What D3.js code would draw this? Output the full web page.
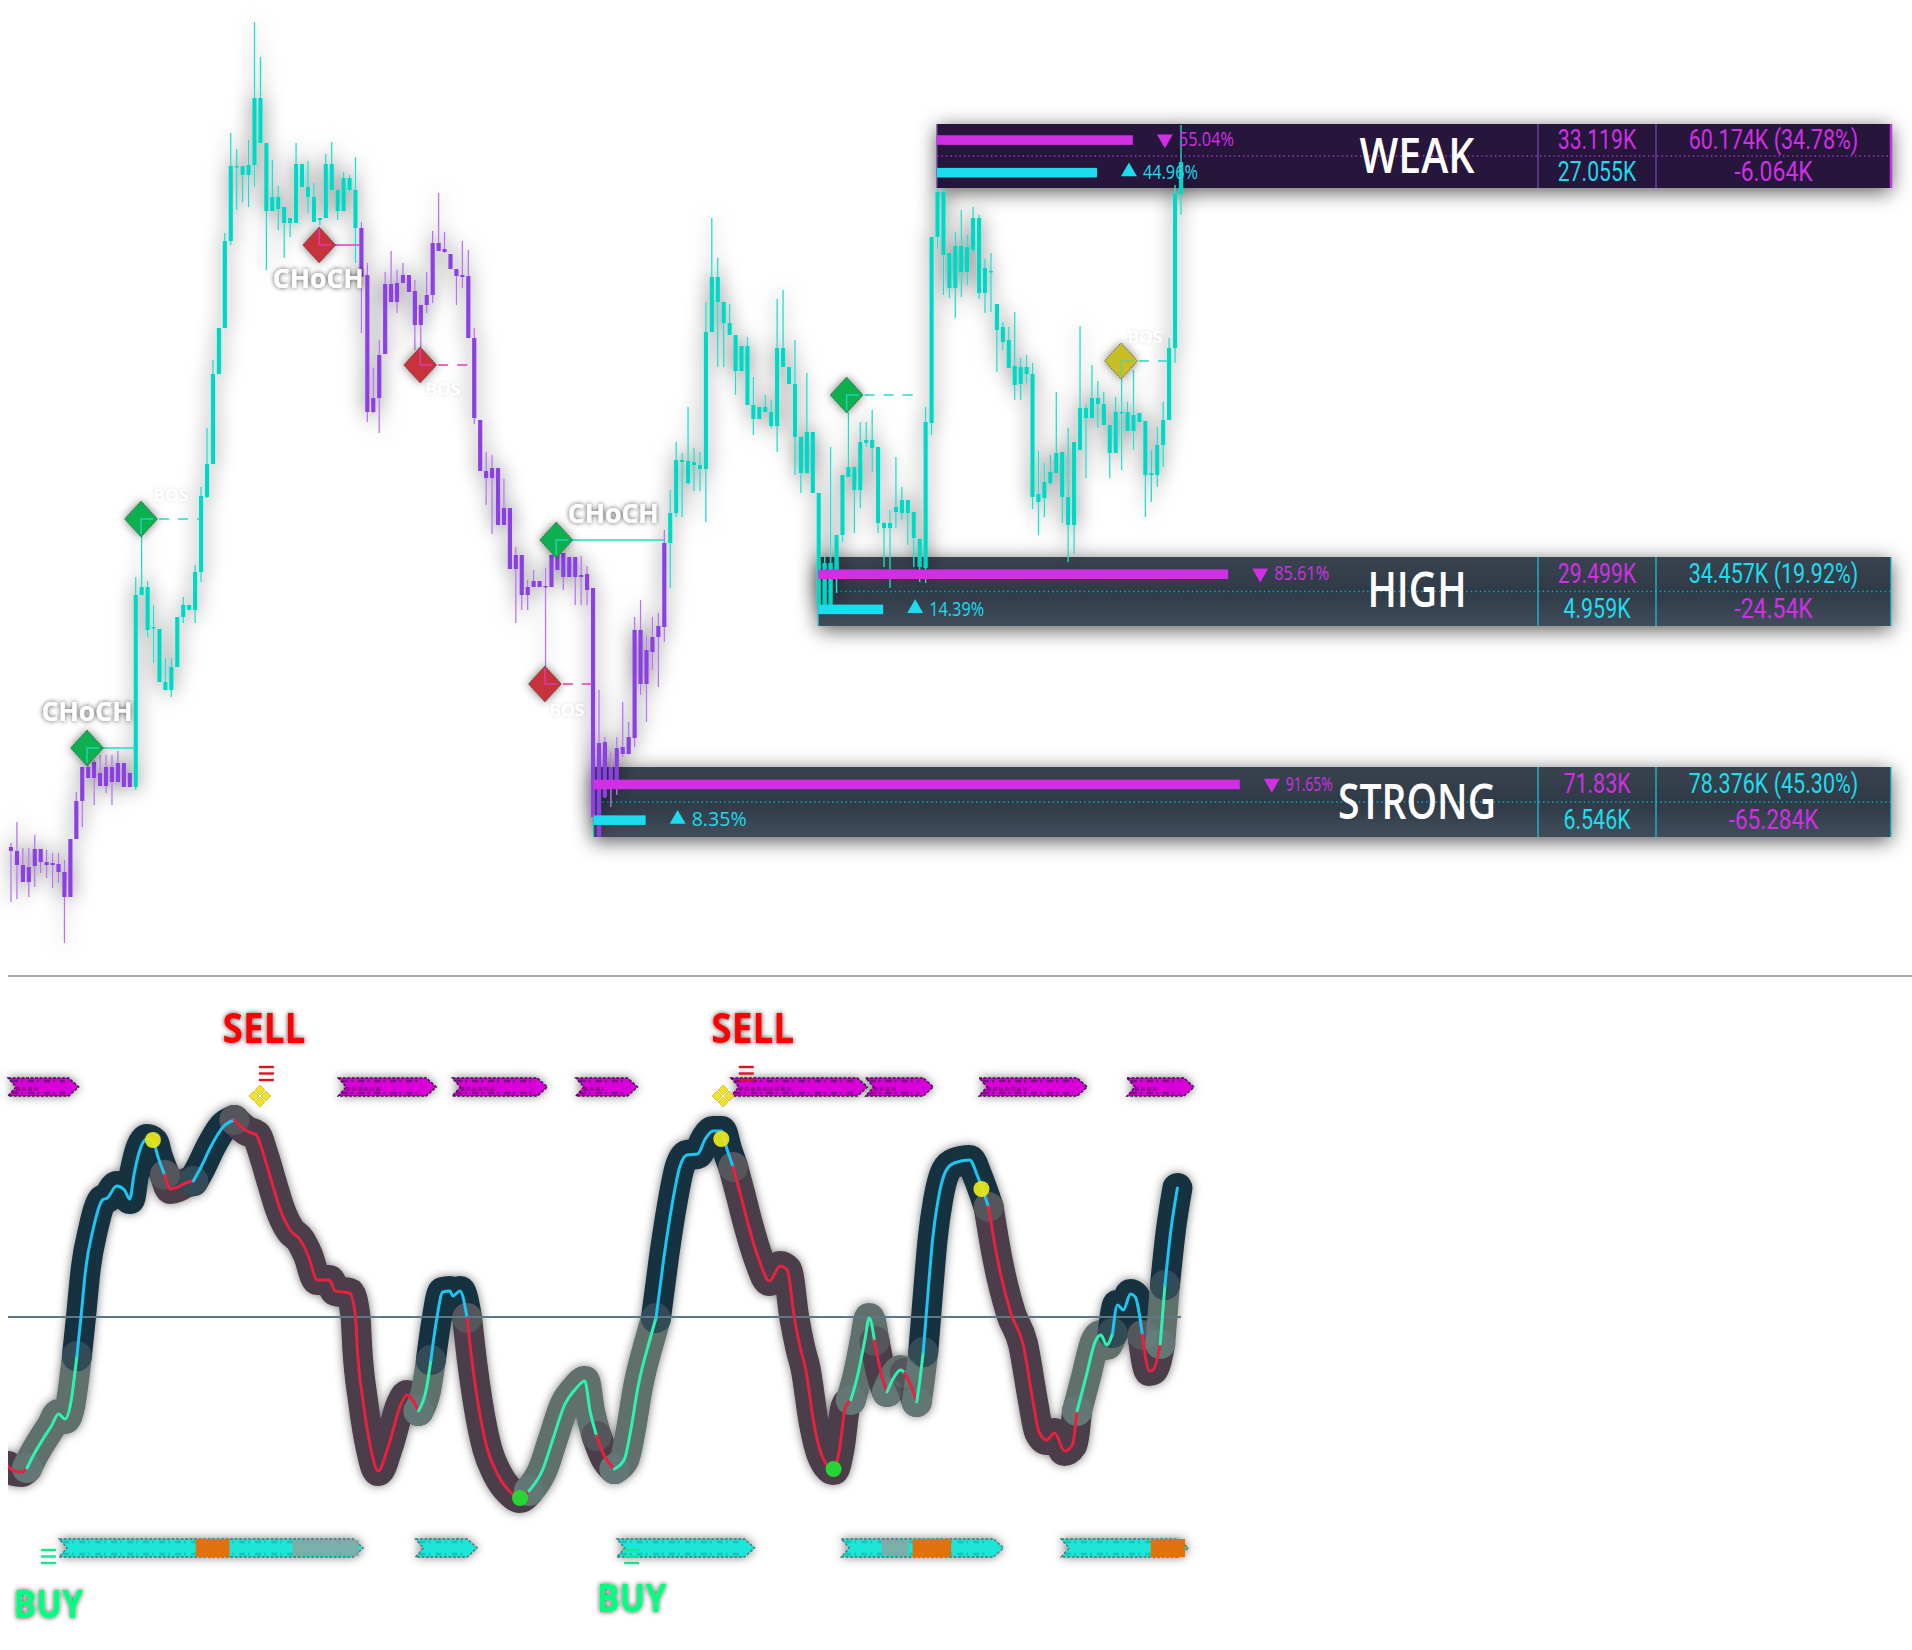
<!DOCTYPE html>
<html>
<head>
<meta charset="utf-8">
<title>chart</title>
<script src="https://cdn.jsdelivr.net/npm/d3@7"></script>
<style>
  html, body { margin: 0; padding: 0; background: #fff; }
  text { font-family: "Open Sans", sans-serif; }
  text.cell { font-family: Roboto, sans-serif; }
</style>
</head>
<body>
<div id="chart"></div>
<script>
"use strict";
// candles, price units
var candleTop = [
  153,149,135,133,151,151,138,137,136,128,
  161,199,233,233,238,227,233,233,237,237,
  227,405,413,413,373,371,318,333,383,395,
  395,428,504,536,626,672,759,834,834,834,
  835,902,902,857,803,803,793,782,836,836,
  813,803,782,836,836,810,822,822,810,772,
  725,602,645,716,716,717,725,725,709,695,
  705,757,757,751,746,731,725,724,662,580,
  529,532,532,492,492,445,445,413,419,419,
  414,445,445,447,443,443,425,426,412,257,
  258,233,252,253,263,370,370,350,363,374,
  457,487,540,540,539,538,535,668,723,723,
  698,677,665,654,654,595,593,593,588,652,
  652,633,616,563,568,568,507,437,437,465,
  525,533,533,558,560,560,553,477,477,493,
  500,500,488,461,578,763,808,808,747,754,
  754,753,782,782,732,729,696,673,660,634,
  633,633,626,506,518,528,547,548,503,558,
  592,592,602,602,596,575,588,588,588,585,
  587,579,527,555,580,652,807,838];
var candleBot = [
  149,135,118,118,134,138,135,135,128,103,
  103,161,199,222,222,214,214,218,218,213,
  213,213,405,370,372,318,310,310,333,383,
  390,390,428,503,536,626,672,759,833,825,
  825,835,857,789,789,791,777,777,777,813,
  803,778,780,782,810,789,789,810,772,723,
  588,588,602,646,698,698,717,708,675,675,
  695,705,749,748,731,724,723,662,582,529,
  522,522,475,475,431,431,405,405,413,413,
  413,413,430,423,423,423,423,410,183,163,
  203,212,220,246,246,262,316,316,348,363,
  373,457,487,538,517,535,531,531,668,698,
  677,665,629,629,595,581,581,588,574,574,
  633,616,563,527,527,507,395,395,395,425,
  465,523,510,510,557,552,477,472,472,488,
  487,487,462,433,432,577,763,745,712,712,
  728,728,750,707,707,728,670,658,632,615,
  616,626,503,498,502,517,527,503,475,475,
  550,582,582,596,575,547,547,587,569,569,
  578,525,525,525,555,580,652,806];
var candleHigh = [
  157,178,152,152,165,151,150,147,147,140,
  161,208,233,240,240,245,245,245,249,237,
  227,423,465,419,395,371,342,342,383,403,
  395,435,513,572,640,672,767,867,851,834,
  860,978,943,857,840,814,793,782,857,836,
  839,817,782,846,858,810,828,825,843,778,
  737,632,660,728,749,730,737,725,720,695,
  728,769,807,768,746,731,759,750,672,580,
  548,545,532,521,492,453,445,420,430,419,
  432,445,446,447,443,443,444,434,412,310,
  263,247,263,298,278,383,400,364,383,387,
  470,510,558,547,593,552,548,698,782,742,
  698,696,665,654,663,623,593,605,600,701,
  710,633,660,563,627,568,507,443,553,465,
  525,588,533,578,578,590,553,478,490,543,
  513,500,488,461,593,763,812,812,747,768,
  790,765,793,785,741,747,696,678,673,688,
  642,645,637,549,537,545,608,548,572,558,
  674,595,635,619,608,575,603,622,598,630,
  587,579,550,573,598,662,815,875];
var candleLow = [
  98,101,118,103,113,127,122,112,117,57,
  103,161,173,222,195,214,207,195,218,213,
  213,210,405,363,337,318,310,303,333,377,
  390,377,418,502,536,626,672,755,790,798,
  793,813,857,730,789,770,742,763,777,813,
  787,778,775,782,810,780,789,807,737,667,
  578,587,567,646,698,687,717,708,650,652,
  687,697,749,747,731,695,712,662,576,529,
  495,466,475,475,431,377,390,390,413,413,
  333,413,430,410,423,395,395,395,183,163,
  202,193,205,243,246,253,305,278,330,313,
  358,412,483,483,515,509,509,478,668,633,
  633,665,605,629,595,565,581,588,572,548,
  633,616,525,507,527,507,395,395,395,407,
  458,523,467,492,553,528,467,433,412,472,
  480,455,433,418,417,565,752,705,702,682,
  703,715,747,701,687,688,628,650,632,600,
  600,617,491,465,483,515,527,477,438,446,
  550,522,582,572,575,522,547,530,569,550,
  578,483,498,513,533,580,637,785];
var bearRanges = [[0, 20], [59, 110]];

// structure markers
var markBar   = [12.8, 21.9, 51.9, 68.9, 89.9, 91.8, 140.7, 186.9];
var markPrice = [252, 481, 755, 635, 316, 460, 605, 639];
var markEnd   = [20.9, 31.8, 58.8, 77.8, 97.8, 110, 152.9, 194.8];
var markKind  = ['bull', 'bull', 'bear', 'bear', 'bear', 'bull', 'bull', 'warn'];
var markText  = ['CHoCH', 'BOS', 'CHoCH', 'BOS', 'BOS', 'CHoCH', '', 'BOS'];
var markSolid = [true, false, true, false, false, true, false, false];

// volume zones
var zoneNames = ['WEAK', 'HIGH', 'STRONG'];
var zoneStart = [155.9, 135.9, 98.1];
var zoneTopP  = [876, 443, 233];
var zoneBotP  = [812, 374, 163];
var zoneDown  = [55.04, 85.61, 91.65];
var zoneUp    = [44.96, 14.39, 8.35];
var zoneSell  = ['33.119K', '29.499K', '71.83K'];
var zoneBuy   = ['27.055K', '4.959K', '6.546K'];
var zoneTotal = ['60.174K (34.78%)', '34.457K (19.92%)', '78.376K (45.30%)'];
var zoneDelta = ['-6.064K', '-24.54K', '-65.284K'];

// oscillator: bar, value, state of the segment that starts at the point
var oscBar = [
  -0.5,0.5,1.8,2.7,3.8,5.5,6.8,8,9.1,10,10.8,11.1,11.8,12.6,13.8,15.4,16.2,17.8,19.1,20,
  20.7,21.7,22.9,24,24.7,25.9,26.9,28.1,29.4,30.7,32,33.7,35.7,37.6,39.7,41.3,42.5,44,45.3,47,
  48.7,50,51.6,53.6,54.6,57,58,58.3,59.3,60.6,61.8,63.6,65.6,66.7,68.6,69.9,70.7,71.6,72.7,73.9,
  74.4,75.6,76.8,77.6,78.6,80.2,81.9,83.9,85.7,87.2,89.5,91.2,93.2,95.2,96.6,97.5,98.6,100,101.6,103.3,
  104.3,105.6,107.6,108.6,109.9,111.3,112.6,113.8,115.6,116.9,118.2,119.6,120.6,121.6,122.9,124.2,125.9,127.7,129.5,130.7,
  131.9,132.9,133.8,135.2,136.5,138.5,139.5,140.5,141.4,142.5,143.8,144.5,145.4,146.5,147.5,148.5,149.8,150.5,151.7,152.5,
  153.1,153.6,154.4,155.2,156.1,157.4,158.8,161.4,162.8,164.6,166.1,168.4,170.4,172.1,173.1,174.4,175.7,177.4,178.7,179.5,
  181,182.6,183.5,184.5,185.5,186.3,187.3,188.5,189.3,190.5,191.7,192.3,193.5,194.3,195.3,196.4];
var oscVal = [
  -149,-154,-155,-151,-138,-121,-109,-97,-102,-88,-54,-39,1,49,87,117,119,131,127,118,
  142,167,178,175,161,142,128,130,134,136,150,171,190,197,186,182,163,133,108,87,
  77,62,37,37,26,24,1,-31,-85,-132,-154,-128,-88,-78,-94,-73,-43,-5,25,26,
  21,26,-1,-43,-85,-132,-157,-174,-181,-174,-153,-123,-88,-71,-64,-94,-119,-140,-152,-142,
  -115,-69,-22,-1,58,112,150,162,163,178,186,186,167,150,121,91,58,36,51,47,
  -1,-31,-52,-107,-138,-153,-132,-90,-83,-60,-22,-1,-24,-56,-75,-62,-53,-56,-71,-85,
  -60,-35,24,79,117,146,154,157,140,110,58,3,-27,-85,-115,-123,-116,-134,-128,-94,
  -60,-24,-18,-28,-16,12,7,23,20,-18,-54,-53,-27,32,87,129];
// index in oscBar where the state changes, and the state from there on
var oscChangeAt = [0, 3, 11, 25, 29, 33, 54, 56, 62, 69, 76, 78, 83, 93, 108, 112, 114, 117, 119, 121, 129, 139, 144, 149, 152, 153];
var oscState    = ['sell','buy','up','sell','up','sell','buy','up','sell','buy','sell','buy','up','sell','buy','sell','buy','sell','buy','up','sell','buy','up','sell','buy','up'];

var dotBar = [23.9, 119.6, 163.4, 85.7, 138.5];
var dotVal = [177, 178, 128, -181, -152];
var dotKind = ['sell', 'sell', 'sell', 'buy', 'buy'];

// signal ribbons in bars
var sellRibbons = [[-0.5,11.4],[55.1,71.6],[74.3,90.3],[95.1,105.5],[121.2,144.2],[143.9,155.3],[163,181.2],[187.9,199.2]];
var buyRibbons  = [[8.1,59.3],[68.1,78.5],[102,125.2],[139.8,167.1],[176.8,198.2]];
var hotRanges   = [[31.1,37.3],[151.8,158.8],[191.9,198.2]];
var fadedRanges = [[47.4,59.3],[146.6,151.8]];

var sellTextBar   = [42.6, 124.9];
var sellStackBar  = [43, 123.8];
var sellCloverBar = [41.9, 119.9];
var buyStackBar   = [6.3, 104.5];

var colors = {
  bull: '#00d8c6', bear: '#8b3fe3', bullW: '#22dccd', bearW: '#b673ea',
  magenta: '#d02fe4', cyan: '#1ddcee',
  sell: '#e8213f', buy: '#2df2b0', up: '#1bc6f2',
  sellBand: '#4b3e48', buyBand: '#5f706d', upBand: '#17303f'
};

var width = 1912, height = 1650;
var svg = d3.select('#chart').append('svg').attr('width', width).attr('height', height)
  .style('display', 'block').style('background', '#fff').style('filter', 'blur(0.4px)');

var x = d3.scaleLinear().domain([0, 197]).range([11, 1181]);
var y = d3.scaleLinear().domain([0, 1000]).range([1000, 0]);
var yOsc = d3.scaleLinear().domain([-200, 200]).range([1517, 1117]);

var defs = svg.append('defs');
function shadow(id, std, alpha, dy) {
  var f = defs.append('filter').attr('id', id).attr('filterUnits', 'userSpaceOnUse')
    .attr('x', 0).attr('y', 0).attr('width', width).attr('height', height);
  f.append('feDropShadow').attr('dx', 0).attr('dy', dy || 0).attr('stdDeviation', std)
    .attr('flood-color', '#000').attr('flood-opacity', alpha);
}
shadow('glow', 10, 0.62);
shadow('panel', 10, 0.65, 4);
shadow('soft', 5, 0.5);
shadow('label', 2.5, 0.7);
shadow('faint', 2, 0.12);
defs.append('clipPath').attr('id', 'pane').append('rect').attr('x', 8).attr('y', 980).attr('width', width).attr('height', 670);
var grad = defs.append('linearGradient').attr('id', 'slate').attr('x1', 0).attr('x2', 0).attr('y1', 0).attr('y2', 1);
grad.append('stop').attr('offset', 0).attr('stop-color', '#39444f');
grad.append('stop').attr('offset', 0.5).attr('stop-color', '#2e3a47');
grad.append('stop').attr('offset', 1).attr('stop-color', '#414d5a');

// zone panels, under the candles
var zoneRight = 1891, col1 = 1538, col2 = 1656;
var barFull = [356, 479, 705];
var barFullUp = [356, 452, 623];
var zoneG = svg.append('g');
zoneNames.forEach(function(name, i) {
  var left = x(zoneStart[i]), top = y(zoneTopP[i]), bot = y(zoneBotP[i]);
  var weak = name === 'WEAK';
  var edge = weak ? '#7d4bb5' : '#1fc8dc';
  zoneG.append('rect').attr('x', left).attr('y', top).attr('width', zoneRight - left).attr('height', bot - top)
    .attr('fill', weak ? '#27173b' : 'url(#slate)').attr('filter', 'url(#panel)');
  zoneG.append('line').attr('x1', left).attr('x2', zoneRight).attr('y1', (top + bot) / 2).attr('y2', (top + bot) / 2)
    .attr('stroke', weak ? '#a034c8' : '#18a8bc').attr('stroke-width', 1.5).attr('stroke-dasharray', '1.5 3');
  [left, col1, col2, zoneRight].forEach(function(v, k) {
    zoneG.append('line').attr('x1', v).attr('x2', v).attr('y1', top).attr('y2', bot)
      .attr('stroke', k === 3 && weak ? '#c832e0' : edge).attr('stroke-width', k === 3 && weak ? 2.5 : 1.2);
  });
  var rowA = top + (bot - top) * 0.235, rowB = top + (bot - top) * 0.745;
  function cell(cx, cy, s, color) {
    zoneG.append('text').attr('class', 'cell').attr('x', cx).attr('y', cy).attr('dy', '0.36em').attr('text-anchor', 'middle')
      .attr('font-size', 27).attr('fill', color)
      .attr('textLength', s.length * (s.length > 10 ? 10.6 : 11.2)).attr('lengthAdjust', 'spacingAndGlyphs').text(s);
  }
  cell((col1 + col2) / 2, rowA, zoneSell[i], colors.magenta);
  cell((col1 + col2) / 2, rowB, zoneBuy[i], colors.cyan);
  cell((col2 + zoneRight) / 2, rowA, zoneTotal[i], weak ? colors.magenta : colors.cyan);
  cell((col2 + zoneRight) / 2, rowB, zoneDelta[i], colors.magenta);
  zoneG.append('text').attr('x', 1417).attr('y', (top + bot) / 2 - (name === 'HIGH' ? 2 : 0)).attr('dy', '0.36em').attr('text-anchor', 'middle')
    .attr('font-size', 48).attr('font-weight', 600).attr('fill', '#fff')
    .attr('textLength', name === 'STRONG' ? 158 : (name === 'WEAK' ? 115 : 99)).attr('lengthAdjust', 'spacingAndGlyphs')
    .text(name);
});

// candles
function isBear(i) {
  return bearRanges.some(function(r) { return i >= r[0] && i <= r[1]; });
}
var candleG = svg.append('g').attr('filter', 'url(#glow)');
candleG.selectAll('line').data(candleTop).enter().append('line')
  .attr('x1', function(d, i) { return x(i); }).attr('x2', function(d, i) { return x(i); })
  .attr('y1', function(d, i) { return y(candleHigh[i]); }).attr('y2', function(d, i) { return y(candleLow[i]); })
  .attr('stroke', function(d, i) { return isBear(i) ? colors.bearW : colors.bullW; }).attr('stroke-width', 1.3);
candleG.selectAll('rect').data(candleTop).enter().append('rect')
  .attr('x', function(d, i) { return x(i) - 2.1; }).attr('width', 4.2)
  .attr('y', function(d) { return y(d); })
  .attr('height', function(d, i) { return Math.max(1.5, y(candleBot[i]) - y(d)); })
  .attr('fill', function(d, i) { return isBear(i) ? colors.bear : colors.bull; });

// zone bars, above the candles
var barG = svg.append('g');
zoneNames.forEach(function(name, i) {
  var left = x(zoneStart[i]), top = y(zoneTopP[i]), bot = y(zoneBotP[i]);
  var rowA = top + (bot - top) * 0.235, rowB = top + (bot - top) * 0.745;
  var wDown = d3.scaleLinear().domain([0, 100]).range([0, barFull[i]]);
  var wUp = d3.scaleLinear().domain([0, 100]).range([0, barFullUp[i]]);
  [[wDown(zoneDown[i]), zoneDown[i], rowA, colors.magenta, true], [wUp(zoneUp[i]), zoneUp[i], rowB, colors.cyan, false]].forEach(function(b) {
    var end = left + b[0];
    barG.append('rect').attr('x', left).attr('y', b[2] - 3.8).attr('width', b[0]).attr('height', 9.6).attr('fill', b[3]);
    var tri = d3.symbol().type(d3.symbolTriangle).size(110)();
    barG.append('path').attr('d', tri)
      .attr('transform', 'translate(' + (end + 32) + ',' + b[2] + ')' + (b[4] ? ' rotate(180)' : ''))
      .attr('fill', b[3]);
    barG.append('text').attr('x', end + 46).attr('y', b[2]).attr('dy', '0.36em').attr('font-size', 20).attr('fill', b[3])
      .attr('textLength', name === 'STRONG' && b[4] ? 47 : 55).attr('lengthAdjust', 'spacingAndGlyphs').text(b[1].toFixed(2) + '%');
  });
});

// structure markers
var markFill = { bull: '#0bb04f', bear: '#c8303b', warn: '#c9be28' };
var markLine = { bull: '#22dccd', bear: '#e23cc4', warn: '#22dccd' };
var markG = svg.append('g');
markBar.forEach(function(b, i) {
  var cx = x(b), cy = y(markPrice[i]);
  var line = markG.append('line').attr('x1', markSolid[i] ? cx : cx + 18).attr('x2', x(markEnd[i]))
    .attr('y1', cy).attr('y2', cy).attr('stroke', markLine[markKind[i]]).attr('stroke-width', 1.6);
  if (!markSolid[i]) line.attr('stroke-dasharray', '10 9');
  markG.append('path').attr('d', d3.line()([[cx, cy - 18], [cx + 16.5, cy], [cx, cy + 18], [cx - 16.5, cy]]) + 'Z')
    .attr('fill', markFill[markKind[i]]).attr('stroke', '#444').attr('stroke-width', 0.8)
    .attr('stroke-dasharray', '1.5 1').attr('filter', 'url(#soft)');
  var corner = markKind[i] === 'bear' ? [[cx, cy - 16], [cx, cy], [cx + 12, cy]] : [[cx, cy + 15], [cx, cy], [cx + 12, cy]];
  markG.append('path').attr('d', d3.line()(corner)).attr('fill', 'none')
    .attr('stroke', markLine[markKind[i]]).attr('stroke-width', 1.5).attr('opacity', markKind[i] === 'warn' ? 0.5 : 0.8);
});
var labelDx = [0, 30, -1, 23, 22, 57, 0, 24];
var labelBase = [721, 501, 288, 395, 716, 523, 0, 343];
markText.forEach(function(t, i) {
  if (!t) return;
  var big = t === 'CHoCH';
  markG.append('text').attr('x', x(markBar[i]) + labelDx[i]).attr('y', labelBase[i]).attr('text-anchor', 'middle')
    .attr('font-size', big ? 27 : 17).attr('font-weight', big ? 700 : 600).attr('fill', '#fff')
    .attr('filter', big ? 'url(#label)' : 'url(#faint)')
    .attr('textLength', big ? 91 : 35).attr('lengthAdjust', 'spacingAndGlyphs').text(t);
});

// pane separator
svg.append('line').attr('x1', 8).attr('x2', width).attr('y1', 976).attr('y2', 976).attr('stroke', '#8b8b8b').attr('stroke-width', 1.4);

// oscillator
var oscPoints = oscBar.map(function(b, i) { return [x(b), yOsc(oscVal[i])]; });
var oscLine = d3.line().curve(d3.curveMonotoneX);
var segments = oscChangeAt.map(function(start, k) {
  var stop = k + 1 < oscChangeAt.length ? oscChangeAt[k + 1] : oscPoints.length - 1;
  return { state: oscState[k], pts: oscPoints.slice(start, stop + 1) };
});
var paneG = svg.append('g').attr('clip-path', 'url(#pane)');
var bandG = paneG.append('g').attr('filter', 'url(#soft)');
segments.forEach(function(s) {
  bandG.append('path').attr('d', oscLine(s.pts)).attr('fill', 'none').attr('stroke', colors[s.state + 'Band'])
    .attr('stroke-width', 30).attr('stroke-linecap', 'round').attr('stroke-linejoin', 'round');
});
segments.forEach(function(s, k) {
  if (k === 0) return;
  bandG.append('circle').attr('cx', s.pts[0][0]).attr('cy', s.pts[0][1]).attr('r', 15)
    .attr('fill', '#6e8a8c').attr('opacity', 0.3);
});
paneG.append('line').attr('x1', 8).attr('x2', x(197)).attr('y1', yOsc(0)).attr('y2', yOsc(0))
  .attr('stroke', '#5d7884').attr('stroke-width', 2);
segments.forEach(function(s) {
  paneG.append('path').attr('d', oscLine(s.pts)).attr('fill', 'none').attr('stroke', colors[s.state])
    .attr('stroke-width', 3).attr('stroke-linecap', 'round');
});
dotBar.forEach(function(b, i) {
  svg.append('circle').attr('cx', x(b)).attr('cy', yOsc(dotVal[i])).attr('r', 8)
    .attr('fill', dotKind[i] === 'sell' ? '#e6e61a' : '#22dd33').attr('opacity', 0.95);
});

// ribbons
function ribbonPath(x0, x1, cy) {
  var h = 9;
  return d3.line()([[x0, cy - h], [x1 - 10, cy - h], [x1, cy], [x1 - 10, cy + h], [x0, cy + h], [x0 + 8, cy]]) + 'Z';
}
function weave(g, x0, x1, cy, color, op) {
  [-6, 6].forEach(function(o) {
    g.append('line').attr('x1', x0 + 4).attr('x2', x1 - 14).attr('y1', cy + o).attr('y2', cy + o)
      .attr('stroke', color).attr('stroke-width', 2.5).attr('stroke-dasharray', '6 3 2 5').attr('opacity', op);
  });
}
var ribbonG = svg.append('g').attr('filter', 'url(#soft)');
sellRibbons.forEach(function(r) {
  var cy = 1087;
  var x0 = Math.max(8, x(r[0])), x1 = x(r[1]);
  ribbonG.append('path').attr('d', ribbonPath(x0, x1, cy)).attr('fill', '#d800d8')
    .attr('stroke', '#3c1244').attr('stroke-width', 1.4).attr('stroke-dasharray', '3 1.5');
  weave(ribbonG, x0, x1, cy, '#4a0f55', 0.65);
  ribbonG.append('line').attr('x1', x0 + 8).attr('x2', x0 + (x1 - x0) * 0.45).attr('y1', cy + 2).attr('y2', cy + 2)
    .attr('stroke', '#4a0f55').attr('stroke-width', 4).attr('stroke-dasharray', '4 2').attr('opacity', 0.45);
});
buyRibbons.forEach(function(r) {
  ribbonG.append('path').attr('d', ribbonPath(x(r[0]), x(r[1]), 1548)).attr('fill', '#1ee6d8')
    .attr('stroke', '#4a7270').attr('stroke-width', 1.3).attr('stroke-dasharray', '3 1.5');
  weave(ribbonG, x(r[0]), x(r[1]), 1548, '#12a8a0', 0.55);
});
fadedRanges.forEach(function(r) {
  ribbonG.append('rect').attr('x', x(r[0])).attr('y', 1540).attr('width', x(r[1]) - x(r[0]) - 4).attr('height', 16)
    .attr('fill', '#8aa6a2').attr('opacity', 0.85);
});
hotRanges.forEach(function(r) {
  ribbonG.append('rect').attr('x', x(r[0])).attr('y', 1539).attr('width', x(r[1]) - x(r[0]) - 3).attr('height', 18).attr('fill', '#e07208');
});

// signals
function stack(cx, top, gap, color) {
  [0, 1, 2].forEach(function(k) {
    svg.append('line').attr('x1', cx - 7.5).attr('x2', cx + 7.5).attr('y1', top + k * gap).attr('y2', top + k * gap)
      .attr('stroke', color).attr('stroke-width', 2.4);
  });
}
sellStackBar.forEach(function(b) { stack(x(b), 1067, 6.5, '#e0101c'); });
sellCloverBar.forEach(function(b) {
  var c = x(b);
  [[0, -6], [6, 0], [0, 6], [-6, 0]].forEach(function(o) {
    svg.append('path').attr('d', d3.line()([[c + o[0], 1096 + o[1] - 5], [c + o[0] + 5, 1096 + o[1]], [c + o[0], 1096 + o[1] + 5], [c + o[0] - 5, 1096 + o[1]]]) + 'Z')
      .attr('fill', '#f2e222').attr('stroke', '#b5a520').attr('stroke-width', 0.6);
  });
});
sellTextBar.forEach(function(b) {
  svg.append('text').attr('x', x(b)).attr('y', 1043).attr('text-anchor', 'middle')
    .attr('font-size', 42).attr('font-weight', 700).attr('fill', '#ff0000').attr('filter', 'url(#label)')
    .attr('textLength', 83).attr('lengthAdjust', 'spacingAndGlyphs').text('SELL');
});
buyStackBar.forEach(function(b, i) {
  stack(x(b), 1550, 6.5, '#10e890');
  svg.append('text').attr('x', x(b)).attr('y', i === 0 ? 1618 : 1612).attr('text-anchor', 'middle')
    .attr('font-size', 40).attr('font-weight', 700).attr('fill', '#00ff7f').attr('filter', 'url(#label)')
    .attr('textLength', 70).attr('lengthAdjust', 'spacingAndGlyphs').text('BUY');
});
</script>
</body>
</html>
